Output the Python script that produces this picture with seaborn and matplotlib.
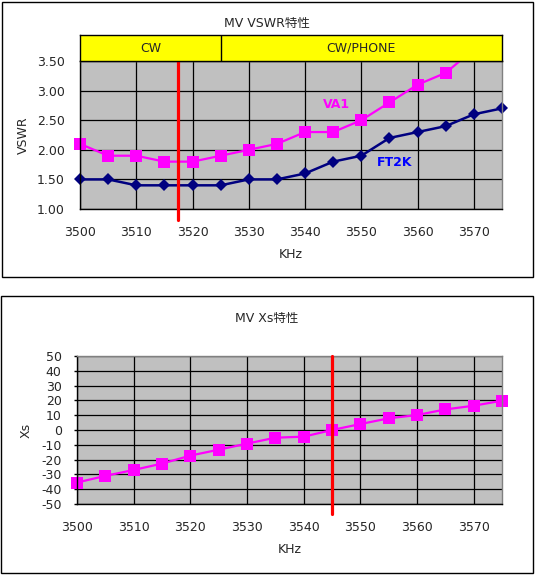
import matplotlib
matplotlib.use("Agg")
import matplotlib.pyplot as plt
from matplotlib.patches import Rectangle
from matplotlib.transforms import Bbox, TransformedBbox
import seaborn as sns

# data
khz = [3500, 3505, 3510, 3515, 3520, 3525, 3530, 3535,
       3540, 3545, 3550, 3555, 3560, 3565, 3570, 3575]
va1 = [2.1, 1.9, 1.9, 1.8, 1.8, 1.9, 2.0, 2.1,
       2.3, 2.3, 2.5, 2.8, 3.1, 3.3, 3.7, 4.0]
ft2k = [1.5, 1.5, 1.4, 1.4, 1.4, 1.4, 1.5, 1.5,
        1.6, 1.8, 1.9, 2.2, 2.3, 2.4, 2.6, 2.7]
xs = [-35.5, -31, -27, -22.7, -17.3, -13.3, -9.2, -5.2,
      -4.5, 0, 4, 7.9, 10.1, 13.9, 16.4, 19.8]
band_edges = [3500, 3525, 3575]
band_labels = ["CW", "CW/PHONE"]
vswr_marker_khz = 3517.5
xs_marker_khz = 3545
vswr_ticks = [1.0, 1.5, 2.0, 2.5, 3.0, 3.5]
xs_ticks = [-50, -40, -30, -20, -10, 0, 10, 20, 30, 40, 50]
x_ticks = [3500, 3510, 3520, 3530, 3540, 3550, 3560, 3570]

sns.set_style("white")
plt.rcParams["font.family"] = ["DejaVu Sans", "Noto Sans CJK JP"]
plt.rcParams["font.size"] = 9
plt.rcParams["axes.unicode_minus"] = False

W, H = 535, 575
fig = plt.figure(figsize=(W / 100, H / 100), dpi=100)


def box(x0, y0, x1, y1):
    # pixel box (top-left origin) -> figure fraction [l, b, w, h]
    return [x0 / W, 1 - y1 / H, (x1 - x0) / W, (y1 - y0) / H]


def frame(x0, y0, x1, y1):
    l, b, w, h = box(x0, y0, x1, y1)
    fig.add_artist(Rectangle((l, b), w, h, transform=fig.transFigure,
                             fill=False, ec="black", lw=1))


def clip_top_only(ax):
    # let markers spill over left/right/bottom, but cut lines at the top
    bb = TransformedBbox(Bbox([[-0.1, -0.2], [1.1, 1.0]]), ax.transAxes)
    for ln in ax.lines:
        ln.set_clip_box(bb)


GRAY = "#C0C0C0"
MAG = "#FF00FF"
NAVY = "#000080"


def style_axes(ax):
    ax.set_facecolor(GRAY)
    ax.grid(True, color="black", lw=0.9)
    ax.set_axisbelow(True)
    for side in ["left", "bottom"]:
        ax.spines[side].set_color("black")
        ax.spines[side].set_linewidth(1)
    for side in ["top", "right"]:
        ax.spines[side].set_color("#808080")
        ax.spines[side].set_linewidth(1)
    ax.set_xlim(3500, 3575)
    ax.set_xticks(x_ticks)
    ax.tick_params(axis="x", length=0, pad=12, labelsize=9)


# ---------- top panel: VSWR ----------
frame(2, 2, 533, 277)
fig.text(267 / W, 1 - 23 / H, "MV VSWR特性", ha="center", va="center", fontsize=9)

ax1 = fig.add_axes(box(80, 61, 502, 209))
style_axes(ax1)
sns.lineplot(x=khz, y=va1, ax=ax1, color=MAG, lw=1.6, marker="s",
             markersize=8, markeredgewidth=0, markerfacecolor=MAG)
sns.lineplot(x=khz, y=ft2k, ax=ax1, color=NAVY, lw=1.8, marker="D",
             markersize=6.5, markeredgewidth=0, markerfacecolor=NAVY)
clip_top_only(ax1)
ax1.set_ylim(1.0, 3.5)
ax1.set_yticks(vswr_ticks)
ax1.set_yticklabels([f"{v:.2f}" for v in vswr_ticks])
ax1.tick_params(axis="y", length=0, pad=11, labelsize=9)
ax1.axvline(vswr_marker_khz, ymin=-0.075, ymax=1, color="#FF0000", lw=2.3,
            clip_on=False, zorder=5)
ax1.text(3545.5, 2.77, "VA1", color=MAG, fontweight="bold", fontsize=9,
         ha="center", va="center")
ax1.text(3556, 1.78, "FT2K", color="#0000FF", fontweight="bold", fontsize=9,
         ha="center", va="center")
ax1.set_xlabel("KHz", fontsize=9, labelpad=7)
ax1.set_ylabel("VSWR", fontsize=9, labelpad=5)

# yellow band above the plot
axb = fig.add_axes(box(80, 35, 502, 61))
axb.set_facecolor("#FFFF00")
axb.set_xlim(3500, 3575)
axb.set_ylim(0, 1)
axb.set_xticks([])
axb.set_yticks([])
for s in axb.spines.values():
    s.set_color("black")
    s.set_linewidth(1)
for e in band_edges[1:-1]:
    axb.axvline(e, color="black", lw=1)
for lab, a, b in zip(band_labels, band_edges[:-1], band_edges[1:]):
    axb.text((a + b) / 2, 0.5, lab, ha="center", va="center", fontsize=9)

# ---------- bottom panel: Xs ----------
frame(1, 296, 533, 573)
fig.text(267 / W, 1 - 318 / H, "MV Xs特性", ha="center", va="center", fontsize=9)

ax2 = fig.add_axes(box(77, 356, 502, 504))
style_axes(ax2)
sns.lineplot(x=khz, y=xs, ax=ax2, color=MAG, lw=1.6, marker="s",
             markersize=8, markeredgewidth=0, markerfacecolor=MAG)
clip_top_only(ax2)
ax2.set_ylim(-50, 50)
ax2.set_yticks(xs_ticks)
ax2.tick_params(axis="y", length=2, width=1, color="black", pad=9, labelsize=9,
                left=True)
ax2.axvline(xs_marker_khz, ymin=-0.068, ymax=1, color="#FF0000", lw=2.3,
            clip_on=False, zorder=5)
ax2.set_xlabel("KHz", fontsize=9, labelpad=7)
ax2.set_ylabel("Xs", fontsize=9, labelpad=6)

fig.savefig("out.png", dpi=100)
